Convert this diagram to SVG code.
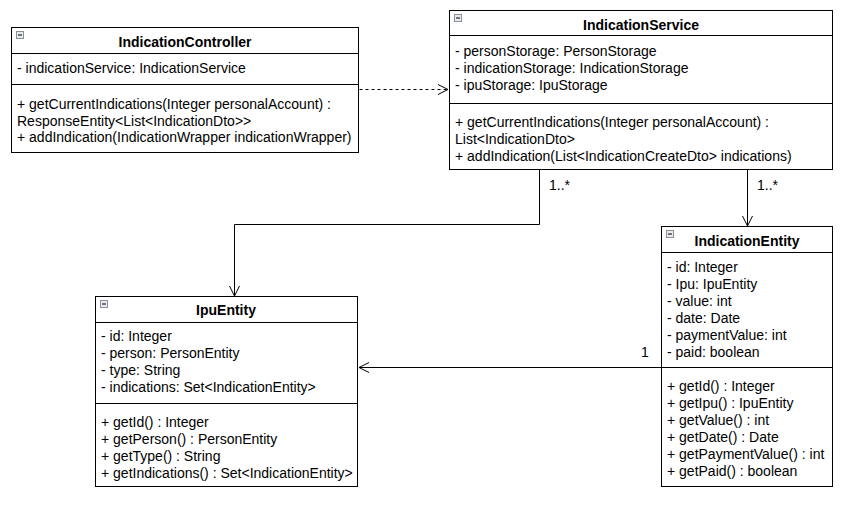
<svg xmlns="http://www.w3.org/2000/svg" width="848" height="505" viewBox="0 0 848 505">
<defs>
<style>
.box{fill:#fff;stroke:#000;stroke-width:1}
.div{stroke:#000;stroke-width:1}
.t{font-family:"Liberation Sans",Arial,sans-serif;font-size:14px;fill:#000}
.b{font-weight:bold;text-anchor:middle}
.ic{fill:#e8eaf0;stroke:#8a8f99;stroke-width:1}
.icm{stroke:#222;stroke-width:1.2}
.ln{fill:none;stroke:#000;stroke-width:1}
.dash{stroke-dasharray:3 3}
</style>
<marker id="open" viewBox="0 0 12 12" refX="11" refY="6" markerWidth="12" markerHeight="12" markerUnits="userSpaceOnUse" orient="auto">
<path d="M1,1 L11,6 L1,11" fill="none" stroke="#000" stroke-width="1"/>
</marker>
</defs>
<rect width="848" height="505" fill="#fff"/>

<g id="connectors">
<path class="ln dash" d="M359.5,89.5 H448" marker-end="url(#open)"/>
<path class="ln" d="M539.5,170 V224.5 H234.5 V296" marker-end="url(#open)"/>
<path class="ln" d="M747.5,170 V226" marker-end="url(#open)"/>
<path class="ln" d="M661,367.5 H359" marker-end="url(#open)"/>
<text class="t" x="549" y="190">1..*</text>
<text class="t" x="757" y="190">1..*</text>
<text class="t" x="641" y="357">1</text>
</g>

<g id="IndicationController">
<rect class="box" x="11.5" y="27.5" width="347" height="125"/>
<rect class="ic" x="16.5" y="31.5" width="7" height="7"/>
<line class="icm" x1="18" y1="35" x2="22" y2="35"/>
<text class="t b" x="185" y="47">IndicationController</text>
<line class="div" x1="11.5" y1="53.5" x2="358.5" y2="53.5"/>
<text class="t" x="17" y="73">- indicationService: IndicationService</text>
<line class="div" x1="11.5" y1="84.5" x2="358.5" y2="84.5"/>
<text class="t" x="17" y="109">+ getCurrentIndications(Integer personalAccount) :</text>
<text class="t" x="17" y="126">ResponseEntity&lt;List&lt;IndicationDto&gt;&gt;</text>
<text class="t" x="17" y="142">+ addIndication(IndicationWrapper indicationWrapper)</text>
</g>

<g id="IndicationService">
<rect class="box" x="449.5" y="10.5" width="383" height="159"/>
<rect class="ic" x="454.5" y="14.5" width="7" height="7"/>
<line class="icm" x1="456" y1="18" x2="460" y2="18"/>
<text class="t b" x="641" y="30">IndicationService</text>
<line class="div" x1="449.5" y1="35.5" x2="832.5" y2="35.5"/>
<text class="t" x="455" y="56">- personStorage: PersonStorage</text>
<text class="t" x="455" y="73">- indicationStorage: IndicationStorage</text>
<text class="t" x="455" y="90">- ipuStorage: IpuStorage</text>
<line class="div" x1="449.5" y1="103.5" x2="832.5" y2="103.5"/>
<text class="t" x="455" y="127">+ getCurrentIndications(Integer personalAccount) :</text>
<text class="t" x="455" y="144">List&lt;IndicationDto&gt;</text>
<text class="t" x="455" y="161">+ addIndication(List&lt;IndicationCreateDto&gt; indications)</text>
</g>

<g id="IpuEntity">
<rect class="box" x="95.5" y="296.5" width="262" height="190"/>
<rect class="ic" x="100.5" y="300.5" width="7" height="7"/>
<line class="icm" x1="102" y1="304" x2="106" y2="304"/>
<text class="t b" x="226" y="315">IpuEntity</text>
<line class="div" x1="95.5" y1="322.5" x2="357.5" y2="322.5"/>
<text class="t" x="101" y="341">- id: Integer</text>
<text class="t" x="101" y="358">- person: PersonEntity</text>
<text class="t" x="101" y="375">- type: String</text>
<text class="t" x="101" y="392">- indications: Set&lt;IndicationEntity&gt;</text>
<line class="div" x1="95.5" y1="403.5" x2="357.5" y2="403.5"/>
<text class="t" x="101" y="427">+ getId() : Integer</text>
<text class="t" x="101" y="444">+ getPerson() : PersonEntity</text>
<text class="t" x="101" y="461">+ getType() : String</text>
<text class="t" x="101" y="478">+ getIndications() : Set&lt;IndicationEntity&gt;</text>
</g>

<g id="IndicationEntity">
<rect class="box" x="661.5" y="226.5" width="171" height="260"/>
<rect class="ic" x="666.5" y="230.5" width="7" height="7"/>
<line class="icm" x1="668" y1="234" x2="672" y2="234"/>
<text class="t b" x="747" y="246">IndicationEntity</text>
<line class="div" x1="661.5" y1="252.5" x2="832.5" y2="252.5"/>
<text class="t" x="667" y="272">- id: Integer</text>
<text class="t" x="667" y="289">- Ipu: IpuEntity</text>
<text class="t" x="667" y="306">- value: int</text>
<text class="t" x="667" y="323">- date: Date</text>
<text class="t" x="667" y="340">- paymentValue: int</text>
<text class="t" x="667" y="357">- paid: boolean</text>
<line class="div" x1="661.5" y1="367.5" x2="832.5" y2="367.5"/>
<text class="t" x="667" y="391">+ getId() : Integer</text>
<text class="t" x="667" y="408">+ getIpu() : IpuEntity</text>
<text class="t" x="667" y="425">+ getValue() : int</text>
<text class="t" x="667" y="442">+ getDate() : Date</text>
<text class="t" x="667" y="459">+ getPaymentValue() : int</text>
<text class="t" x="667" y="476">+ getPaid() : boolean</text>
</g>
</svg>
